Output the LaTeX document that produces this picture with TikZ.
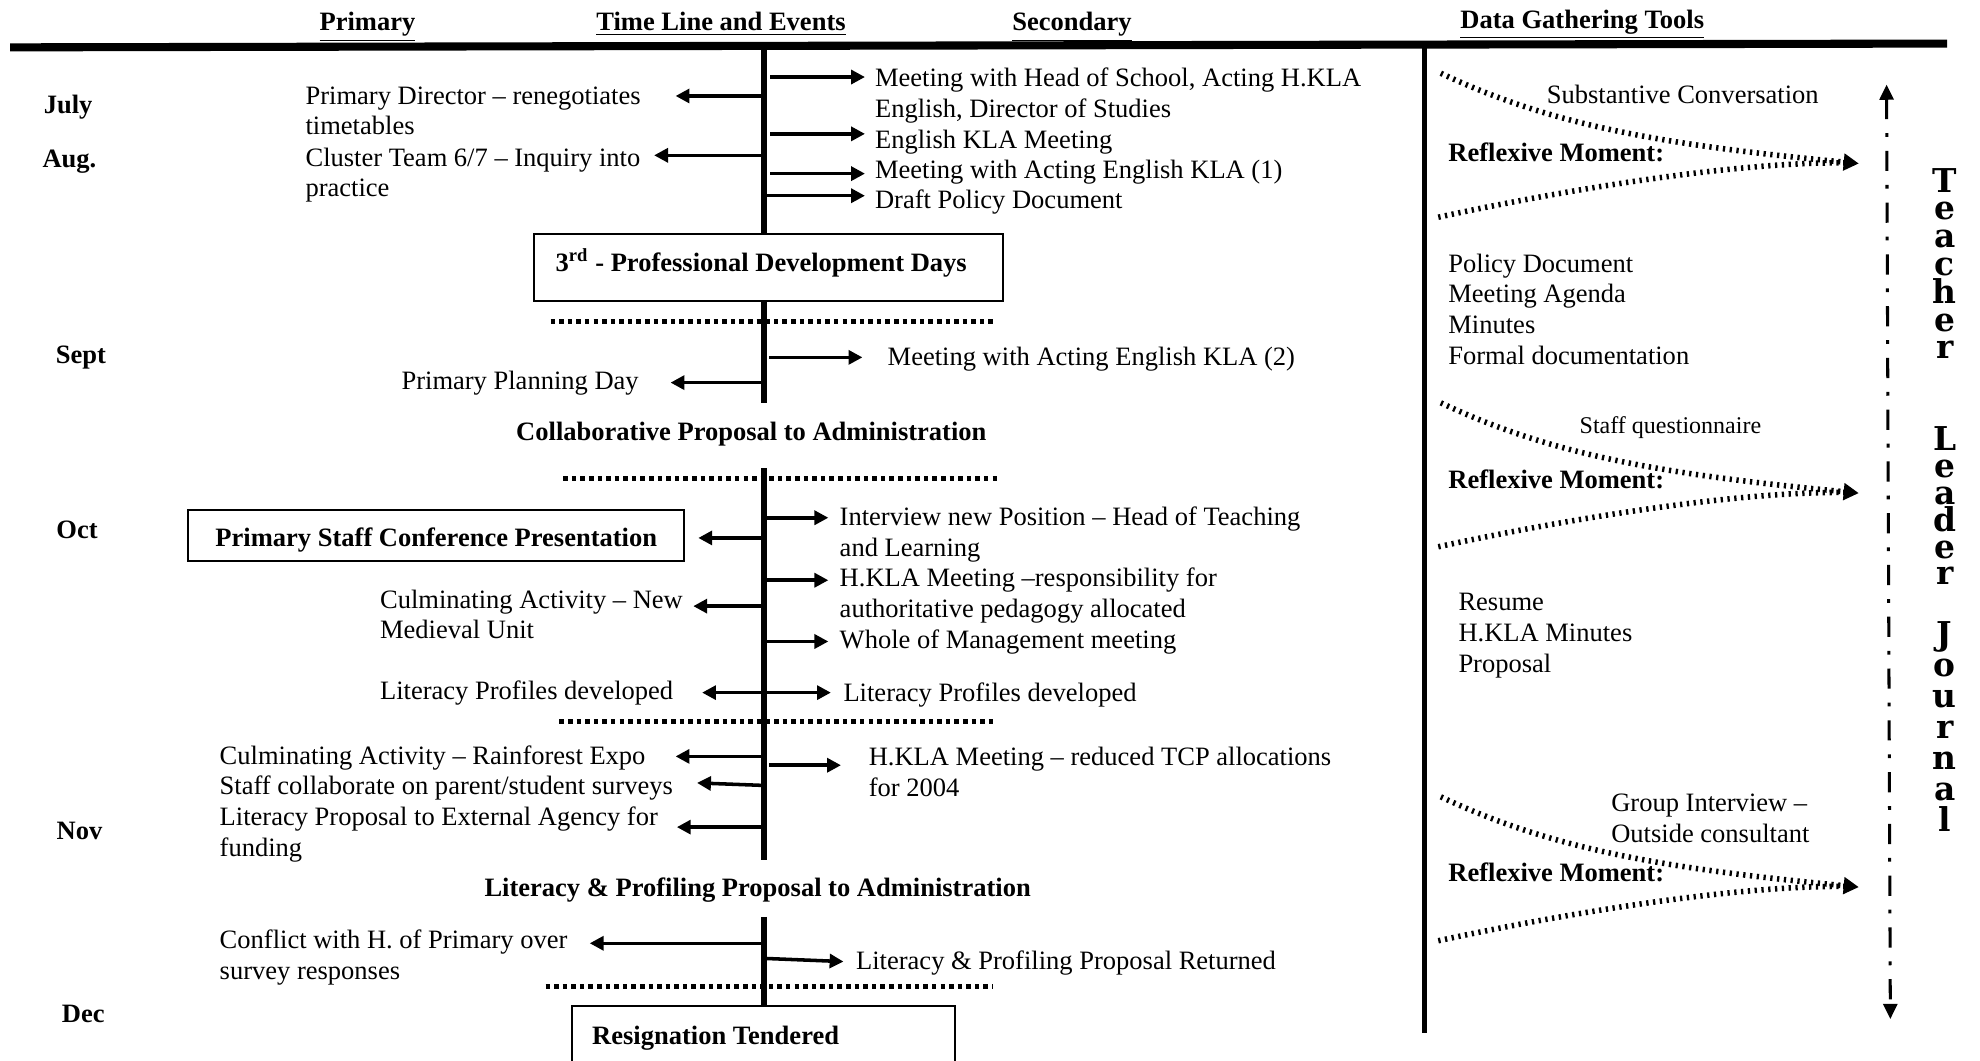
\documentclass[tikz,border=0pt]{standalone}
\usepackage{fontspec}
\setmainfont{Liberation Serif}
\newfontfamily\jfont{DejaVu Serif}
\usetikzlibrary{arrows.meta}
% tight stacking for the vertical journal title
\newcommand\jstackfont{\jfont\bfseries\fontsize{13}{10.6}\selectfont
  \lineskiplimit -20pt\relax \lineskip 0pt\relax}
\begin{document}
\begin{tikzpicture}[x=0.5pt,y=-0.5pt,
  every node/.style={inner sep=0pt, outer sep=0pt},
  body/.style={font=\fontsize{10.5}{12.2}\selectfont, anchor=base west, align=left},
  small/.style={font=\fontsize{9.5}{11}\selectfont, anchor=base west, align=left},
  bold/.style={font=\fontsize{10.5}{12.2}\selectfont\bfseries, anchor=base},
  boldw/.style={font=\fontsize{10.5}{12.2}\selectfont\bfseries, anchor=base west},
  spine/.style={line width=2pt},
  arr/.style={line width=1.4pt, -{Triangle[length=5.5pt,width=5.5pt]}},
  darr/.style={line width=1.4pt, {Triangle[length=5.5pt,width=5.5pt]}-{Triangle[length=5.5pt,width=5.5pt]}},
  sep/.style={line width=2pt, dash pattern=on 1.8pt off 1.6pt},
  frame/.style={draw, line width=0.8pt},
  flow/.style={line width=2.2pt, dash pattern=on 0.9pt off 1.8pt},
  flowtip/.style={-{Triangle[length=6pt,width=6.5pt]}},
  journal/.style={line width=1.2pt, dash pattern=on 8pt off 5.5pt on 1.5pt off 5.5pt,
    {Triangle[length=6pt,width=5.5pt]}-{Triangle[length=6pt,width=5.5pt]}},
  stack/.style={font=\jstackfont, align=center, anchor=base}
]
\fill[white] (0,0) rectangle (1568,840);
\useasboundingbox (0,0) rectangle (1568,840);

% column headings
\node[bold] (hprim) at (291,24.5) {\underline{Primary}};
\node[bold] (htime) at (571,24.5) {\underline{Time Line and Events}};
\node[bold] (hsec)  at (849,24.5) {\underline{Secondary}};
\node[bold] (hdata) at (1253,22.5) {\underline{Data Gathering Tools}};
\draw[line width=3.2pt] (8,37.5) -- (1542,34.5);

% months
\node[bold] (mjul) at (54,89.5) {July};
\node[bold] (maug) at (55,132.5) {Aug.};
\node[bold] (msep) at (64,287.5) {Sept};
\node[bold] (moct) at (61,426.5) {Oct};
\node[bold] (mnov) at (63,664.5) {Nov};
\node[bold] (mdec) at (66,809.5) {Dec};

% the time line itself
\draw[spine] (605,37) -- (605,185);
\draw[spine] (605,238) -- (605,319);
\draw[spine] (605,371) -- (605,681);
\draw[spine] (605,726) -- (605,797);

% section separators
\draw[sep] (436,254.7) -- (786,254.7);
\draw[sep] (446,378.8) -- (790,378.8);
\draw[sep] (443,571.5) -- (786,571.5);
\draw[sep] (432,781) -- (786,781);

% boxed events
\node[frame, anchor=north west, minimum width=185.5pt, minimum height=26.5pt] (pdbox) at (423,185) {};
\node[boldw] (pdtxt) at (440,215) {3\textsuperscript{rd} - Professional Development Days};
\node[frame, anchor=north west, minimum width=196.5pt, minimum height=20pt] (psbox) at (149,404) {};
\node[bold] (pstxt) at (345.5,433) {Primary Staff Conference Presentation};
\node[frame, anchor=north west, minimum width=151.5pt, minimum height=26pt] (rtbox) at (453,797) {};
\node[boldw] (rttxt) at (469,827) {Resignation Tendered};

% milestone captions
\node[bold] (collab) at (595,349) {Collaborative Proposal to Administration};
\node[bold] (litprop) at (600,710) {Literacy \& Profiling Proposal to Administration};

% primary events (multi-line nodes sit on the baseline of their last line)
\node[body] (pdir) at (242,106.9) {Primary Director – renegotiates\\timetables};
\node[body] (clus) at (242,155.9) {Cluster Team 6/7 – Inquiry into\\practice};
\node[body] (ppd) at (318,308.5) {Primary Planning Day};
\node[body] (cmed) at (301,505.9) {Culminating Activity – New\\Medieval Unit};
\node[body] (lpl) at (301,554) {Literacy Profiles developed};
\node[body] (crain) at (174,605.5) {Culminating Activity – Rainforest Expo};
\node[body] (staff) at (174,629.5) {Staff collaborate on parent/student surveys};
\node[body] (lext) at (174,677.9) {Literacy Proposal to External Agency for\\funding};
\node[body] (confl) at (174,775.9) {Conflict with H. of Primary over\\survey responses};

% secondary events
\node[body] (mhs) at (693,92.9) {Meeting with Head of School, Acting H.KLA\\English, Director of Studies};
\node[body] (ekla) at (693,117.5) {English KLA Meeting};
\node[body] (mae1) at (693,141.5) {Meeting with Acting English KLA (1)};
\node[body] (dpd) at (693,165.5) {Draft Policy Document};
\node[body] (mae2) at (703,289.5) {Meeting with Acting English KLA (2)};
\node[body] (inp) at (665,440.9) {Interview new Position – Head of Teaching\\and Learning};
\node[body] (hkla) at (665,488.9) {H.KLA Meeting –responsibility for\\authoritative pedagogy allocated};
\node[body] (wmm) at (665,513.5) {Whole of Management meeting};
\node[body] (lpr) at (668,555.5) {Literacy Profiles developed};
\node[body] (htcp) at (688,630.9) {H.KLA Meeting – reduced TCP allocations\\for 2004};
\node[body] (lpret) at (678,767.5) {Literacy \& Profiling Proposal Returned};

% arrows towards the primary side
\draw[arr] (605,76) -- (535,76);
\draw[arr] (605,123) -- (518,123);
\draw[arr] (605,303) -- (531,303);
\draw[arr] (605,426) -- (553,426);
\draw[arr] (605,480) -- (549,480);
\draw[arr] (605,599) -- (535,599);
\draw[arr] (605,622) -- (552,620);
\draw[arr] (605,655) -- (536,655);
\draw[arr] (605,747) -- (467,747);
% arrows towards the secondary side
\draw[arr] (610,61) -- (685,61);
\draw[arr] (610,106) -- (685,106);
\draw[arr] (610,137.5) -- (685,137.5);
\draw[arr] (605,155) -- (685,155);
\draw[arr] (609,283) -- (683,283);
\draw[arr] (606,410) -- (656,410);
\draw[arr] (606,459.5) -- (656,459.5);
\draw[arr] (606,508) -- (656,508);
\draw[arr] (609,606) -- (666,606);
\draw[arr] (606,759) -- (668,761.5);
\draw[darr] (556,548.5) -- (658,548.5);

% data gathering column
\draw[line width=2pt] (1128,36) -- (1128,818);

\node[body] (subst) at (1225,82) {Substantive Conversation};
\node[body] (docs) at (1147,288.7) {Policy Document\\Meeting Agenda\\Minutes\\Formal documentation};
\node[small] (quest) at (1251,343) {Staff questionnaire};
\node[body] (resum) at (1155,532.3) {Resume\\H.KLA Minutes\\Proposal};
\node[body] (group) at (1276,666.9) {Group Interview –\\Outside consultant};
\node[boldw] (ref1) at (1147,128) {Reflexive Moment:};
\node[boldw] (ref2) at (1147,387) {Reflexive Moment:};
\node[boldw] (ref3) at (1147,698) {Reflexive Moment:};

% converging reflection funnels
\foreach \o in {0,261,573} {
  \draw[flow] (1139,172+\o) .. controls (1250,148+\o) and (1380,128+\o) .. (1462,129+\o);
  \draw[flow, flowtip] (1141,58+\o) .. controls (1230,100+\o) and (1320,115+\o) .. (1472,129.5+\o);
}

% teacher leader journal: dash-dot double arrow and stacked title (anchored on its last line)
\draw[journal] (1494,67) -- (1497,807);
\node[stack] (journaltitle) at (1540,658.6)
  {T\\[0.4pt]e\\[0.4pt]a\\[0.4pt]c\\[0.4pt]h\\[0.4pt]e\\[0.4pt]r\\[25.85pt]L\\e\\a\\d\\e\\r\\[13.35pt]%
   J\\[1.7pt]o\\[1.7pt]u\\[1.7pt]r\\[1.7pt]n\\[1.7pt]a\\[1.7pt]l};
\end{tikzpicture}
\end{document}
